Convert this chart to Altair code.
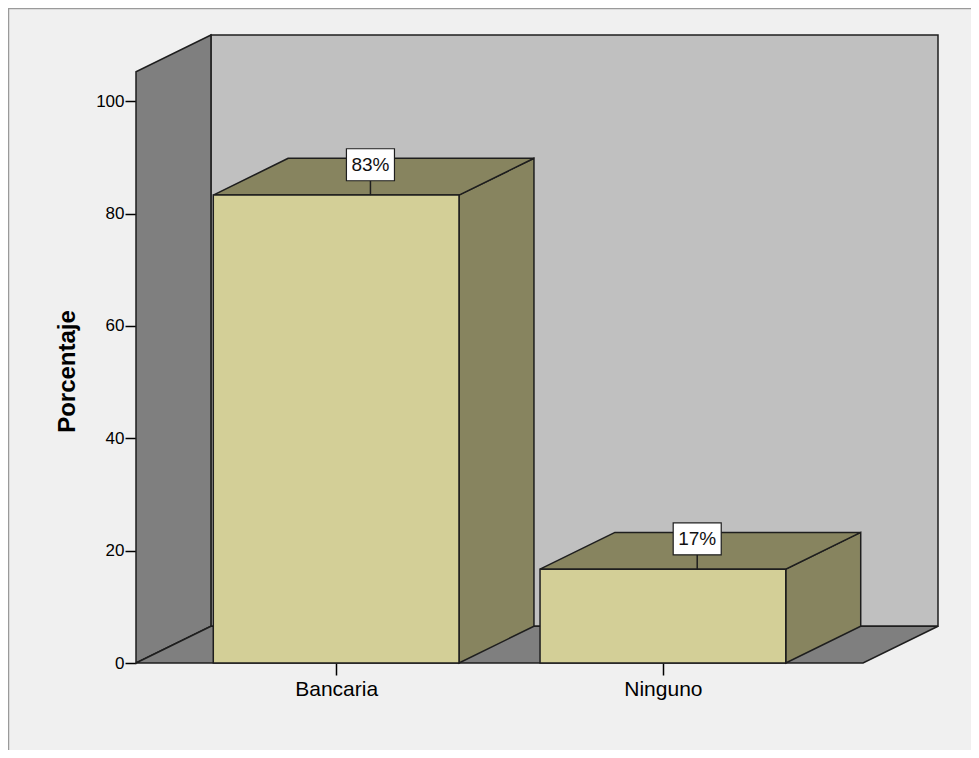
import altair as alt
import pandas as pd

# ---- data ----
categories = ["Bancaria", "Ninguno"]
percentages = [83.3, 16.7]
value_labels = ["83%", "17%"]
y_ticks = [0, 20, 40, 60, 80, 100]
y_title = "Porcentaje"

# ---- layout (data units: x = category steps, y = percent) ----
OUTER = 0.1125      # floor edge to first category slot
BAR_W = 0.752       # bar width as fraction of a category step
DX = 0.2294         # 3D depth, horizontal
DY = 6.55           # 3D depth, vertical (percent units)
YMAX = 111.8
N = len(categories)
FLOOR_W = 2 * OUTER + N
XMAX = FLOOR_W + DX
LBL_DX = 0.105
LBL_DY = 5.4
BOX_HW = 0.0735
BOX_HH = 2.85

centers = [OUTER + 0.5 + i for i in range(N)]

FRONT = "#d3cf97"
SIDE = "#87845f"
WALL_BACK = "#c0c0c0"
WALL_DARK = "#7f7f7f"
EDGE = "#1e1e1e"
SW = 1.5

xs = alt.Scale(domain=[0, XMAX], nice=False, zero=False)
ys = alt.Scale(domain=[0, YMAX], nice=False, zero=False)

label_expr = "[" + ",".join("'" + c + "'" for c in categories) + "][floor(datum.value - %f)]" % OUTER

x_axis = alt.Axis(values=centers, labelExpr=label_expr, domain=False, grid=False,
                  tickSize=12, tickColor="#000", tickWidth=1.5, labelFontSize=21,
                  labelFont="Liberation Sans", labelColor="#000", labelPadding=3,
                  title=None, labelFlush=False)
y_axis = alt.Axis(values=y_ticks, domain=False, grid=False, tickSize=11, tickColor="#000",
                  tickWidth=1.5, labelFontSize=17, labelFont="Liberation Sans",
                  labelColor="#000", labelPadding=1, title=y_title, titleFontSize=24,
                  titleFont="Liberation Sans", titleFontWeight="bold", titleColor="#000",
                  titleX=-69, titleY=336, titleAlign="center", titleBaseline="middle",
                  titleAngle=270)


def X(f):
    return alt.X(f, scale=xs, axis=x_axis)


def Y(f):
    return alt.Y(f, scale=ys, axis=y_axis)


# ---- tables ----
back = pd.DataFrame([{"x0": DX, "x1": XMAX, "y0": DY, "y1": YMAX}])
left_wall = pd.DataFrame([
    {"x": 0.0, "lo": 0.0, "hi": YMAX - DY},
    {"x": DX, "lo": DY, "hi": YMAX},
])
floor = pd.DataFrame([
    {"y": 0.0, "xl": 0.0, "xr": FLOOR_W},
    {"y": DY, "xl": DX, "xr": XMAX},
])

front_rows, side_rows, top_rows, lbl_rows = [], [], [], []
for c, v, lab, cx in zip(categories, percentages, value_labels, centers):
    x0, x1 = cx - BAR_W / 2, cx + BAR_W / 2
    front_rows.append({"cat": c, "x0": x0, "x1": x1, "y0": 0.0, "y1": v})
    side_rows += [{"cat": c, "x": x1, "lo": 0.0, "hi": v},
                  {"cat": c, "x": x1 + DX, "lo": DY, "hi": v + DY}]
    top_rows += [{"cat": c, "y": v, "xl": x0, "xr": x1},
                 {"cat": c, "y": v + DY, "xl": x0 + DX, "xr": x1 + DX}]
    lx = cx + LBL_DX
    lbl_rows.append({"cat": c, "lab": lab, "lx": lx, "v": v,
                     "ly": v + LBL_DY, "b0": v + LBL_DY - BOX_HH, "b1": v + LBL_DY + BOX_HH,
                     "bx0": lx - BOX_HW, "bx1": lx + BOX_HW})
front = pd.DataFrame(front_rows)
side = pd.DataFrame(side_rows)
top = pd.DataFrame(top_rows)
lbl = pd.DataFrame(lbl_rows)

# ---- layers ----
back_l = alt.Chart(back).mark_rect(fill=WALL_BACK, stroke=EDGE, strokeWidth=SW).encode(
    x=X("x0:Q"), x2="x1:Q", y=Y("y0:Q"), y2="y1:Q")

left_l = alt.Chart(left_wall).mark_area(fill=WALL_DARK, stroke=EDGE, strokeWidth=SW,
                                        strokeJoin="miter").encode(
    x=X("x:Q"), y=Y("lo:Q"), y2="hi:Q")

floor_l = alt.Chart(floor).mark_area(orient="horizontal", fill=WALL_DARK, stroke=EDGE,
                                     strokeWidth=SW, strokeJoin="miter").encode(
    y=Y("y:Q"), x=X("xl:Q"), x2="xr:Q")

side_l = alt.Chart(side).mark_area(fill=SIDE, stroke=EDGE, strokeWidth=SW,
                                   strokeJoin="miter").encode(
    x=X("x:Q"), y=Y("lo:Q"), y2="hi:Q", detail="cat:N")

top_l = alt.Chart(top).mark_area(orient="horizontal", fill=SIDE, stroke=EDGE, strokeWidth=SW,
                                 strokeJoin="miter").encode(
    y=Y("y:Q"), x=X("xl:Q"), x2="xr:Q", detail="cat:N")

front_l = alt.Chart(front).mark_rect(fill=FRONT, stroke=EDGE, strokeWidth=SW).encode(
    x=X("x0:Q"), x2="x1:Q", y=Y("y0:Q"), y2="y1:Q")

line_l = alt.Chart(lbl).mark_rule(color=EDGE, strokeWidth=1.5).encode(
    x=X("lx:Q"), y=Y("v:Q"), y2="b0:Q")

box_l = alt.Chart(lbl).mark_rect(fill="white", stroke=EDGE, strokeWidth=1.2).encode(
    x=X("bx0:Q"), x2="bx1:Q", y=Y("b0:Q"), y2="b1:Q")

text_l = alt.Chart(lbl).mark_text(font="Liberation Sans", fontSize=19, color="#111",
                                  baseline="middle", align="center").encode(
    x=X("lx:Q"), y=Y("ly:Q"), text="lab:N")

frame_data = pd.DataFrame([{"k": 0}])
frame_top = alt.Chart(frame_data).mark_rule(color="#9a9a9a", strokeWidth=1.5).encode(
    x=alt.value(-128), x2=alt.value(840), y=alt.value(-26.5))
frame_left = alt.Chart(frame_data).mark_rule(color="#9a9a9a", strokeWidth=1.5).encode(
    x=alt.value(-127.5), y=alt.value(-27), y2=alt.value(720))

chart = alt.layer(
    back_l, left_l, floor_l, side_l, top_l, front_l, line_l, box_l, text_l,
    frame_top, frame_left
).properties(
    width=802, height=628,
    padding={"left": 128, "top": 27, "right": 33, "bottom": 87},
    autosize=alt.AutoSizeParams(type="none"),
    background="#f0f0f0",
).configure_view(stroke=None)

chart.save("out.html", embed_options={"renderer": "svg", "actions": False})
